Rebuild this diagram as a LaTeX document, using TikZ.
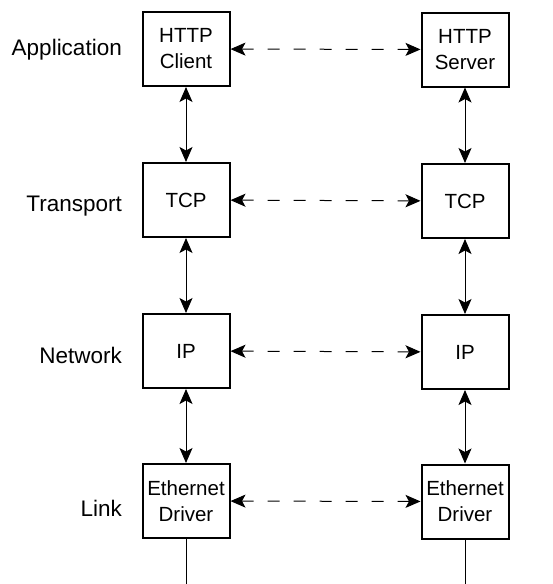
\documentclass[tikz,border=0pt]{standalone}
\usepackage{fontspec}
\setmainfont{Liberation Sans}
\usetikzlibrary{arrows.meta}
\begin{document}
\begin{tikzpicture}[x=1pt,y=1pt,
  layerbox/.style={draw,line width=2pt,minimum width=87pt,minimum height=74pt,inner sep=0pt,align=center,font=\fontsize{20.5}{26}\selectfont},
  layerlabel/.style={anchor=east,inner sep=0pt,font=\fontsize{22.5}{26}\selectfont},
  conn/.style={line width=1pt,{Stealth[length=15pt,width=13pt,inset=3.5pt]}-{Stealth[length=15pt,width=13pt,inset=3.5pt]}},
  peer/.style={conn,dash pattern=on 12pt off 14pt}]
\useasboundingbox (0,0) rectangle (552,-584);
% left stack
\node[layerbox] (hcL) at (186,-49) {HTTP\\Client};
\node[layerbox] (tcpL) at (186,-200) {TCP};
\node[layerbox] (ipL) at (186,-351) {IP};
\node[layerbox] (ethL) at (186,-501) {Ethernet\\Driver};
% right stack
\node[layerbox] (hcR) at (465,-49.5) {HTTP\\Server};
\node[layerbox] (tcpR) at (465,-201) {TCP};
\node[layerbox] (ipR) at (465,-352) {IP};
\node[layerbox] (ethR) at (465,-501.5) {Ethernet\\Driver};
% labels
\node[layerlabel] (lApp) at (122,-50) {Application};
\node[layerlabel] (lTr) at (122,-206) {Transport};
\node[layerlabel] (lNet) at (122,-355) {Network};
\node[layerlabel] (lLink) at (122,-508) {Link};
% vertical connectors
\draw[conn] (hcL) -- (tcpL);
\draw[conn] (tcpL) -- (ipL);
\draw[conn] (ipL) -- (ethL);
\draw[conn] (hcR) -- (tcpR);
\draw[conn] (tcpR) -- (ipR);
\draw[conn] (ipR) -- (ethR);
% peer connectors
\draw[peer] (hcL) -- (hcR);
\draw[peer] (tcpL) -- (tcpR);
\draw[peer] (ipL) -- (ipR);
\draw[peer] (ethL) -- (ethR);
% wires
\coordinate (wL) at (186,-584);
\coordinate (wR) at (465,-584);
\draw[line width=1pt] (ethL.south) -- (wL);
\draw[line width=1pt] (ethR.south) -- (wR);
\end{tikzpicture}
\end{document}
